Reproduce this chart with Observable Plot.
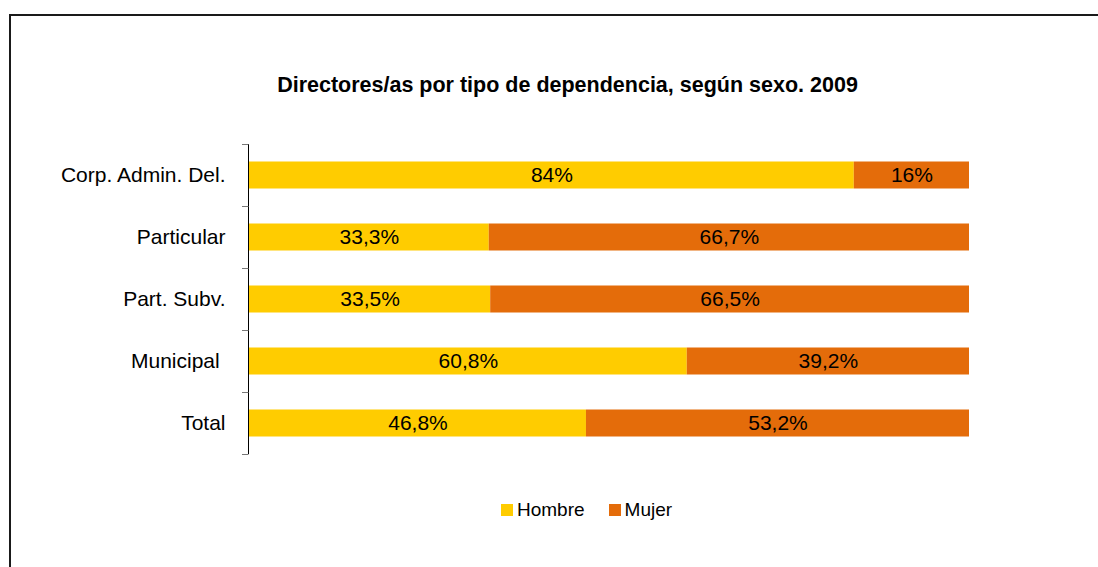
<!DOCTYPE html>
<html>
<head>
<meta charset="utf-8">
<script src="https://cdn.jsdelivr.net/npm/d3@7"></script>
<script src="https://cdn.jsdelivr.net/npm/@observablehq/plot@0.6"></script>
<style>
  html, body { margin: 0; padding: 0; background: #fff; overflow: hidden; }
  #wrap { width: 1098px; height: 567px; position: relative; overflow: hidden; font-family: "Liberation Sans", Arial, sans-serif; }
  #frame { position: absolute; left: 9px; top: 14px; width: 1300px; height: 800px; border-top: 2px solid #1a1a1a; border-left: 2px solid #1a1a1a; box-sizing: border-box; }
  #title { position: absolute; left: 0; width: 1135px; top: 73px; text-align: center; font-size: 21.5px; line-height: 24px; font-weight: bold; color: #000; }
  #chart { position: absolute; left: 0; top: 0; }
  #legend { position: absolute; top: 500px; left: 501px; font-size: 19px; line-height: 20px; color: #000; display: flex; }
  .item { display: flex; align-items: center; margin-right: 24px; }
  .sw { width: 12px; height: 12px; margin-right: 4px; }
</style>
</head>
<body>
<div id="wrap">
<div id="frame"></div>
<div id="title">Directores/as por tipo de dependencia, según sexo. 2009</div>
<div id="chart"></div>
<div id="legend"></div>
</div>
<script>
const categories = ["Corp. Admin. Del.", "Particular", "Part. Subv.", "Municipal\u00a0", "Total"];
const series = ["Hombre", "Mujer"];
const hombre = [84, 33.3, 33.5, 60.8, 46.8];
const mujer = [16, 66.7, 66.5, 39.2, 53.2];
const colors = ["#FFCC00", "#E46C0A"];

const rows = [];
categories.forEach((c, i) => {
  rows.push({cat: c, sexo: series[0], v: hombre[i]});
  rows.push({cat: c, sexo: series[1], v: mujer[i]});
});
const fmt = v => String(v).replace(".", ",") + "%";

// y-axis with ticks at band boundaries (drawn from the band scale)
function bandAxis(index, scales, values, dims) {
  const y = scales.y;
  const step = y.step ? y.step() : y.bandwidth();
  const g = d3.create("svg:g");
  const x0 = dims.marginLeft - 1;
  const starts = y.domain().map(d => y(d));
  const edges = starts.concat([starts[starts.length - 1] + step]);
  g.append("line").attr("x1", x0 + 0.5).attr("x2", x0 + 0.5)
    .attr("y1", edges[0]).attr("y2", edges[edges.length - 1])
    .attr("stroke", "#000");
  edges.forEach(e => {
    g.append("line").attr("x1", x0 - 6).attr("x2", x0 + 0.5)
      .attr("y1", Math.round(e) + 0.5).attr("y2", Math.round(e) + 0.5)
      .attr("stroke", "#777");
  });
  return g.node();
}

const chart = Plot.plot({
  width: 1098,
  height: 567,
  marginLeft: 249,
  marginRight: 129,
  marginTop: 143,
  marginBottom: 113,
  style: {fontFamily: "Liberation Sans, Arial, sans-serif", background: "transparent"},
  x: {domain: [0, 100], axis: null},
  y: {domain: categories, padding: 0, axis: null},
  color: {domain: series, range: colors},
  marks: [
    Plot.barX(rows, Plot.stackX({x: "v", y: "cat", fill: "sexo", insetTop: 17.5, insetBottom: 17.5})),
    Plot.text(rows, Plot.stackX({x: "v", y: "cat", z: "sexo", text: d => fmt(d.v), fontSize: 21, fill: "#000"})),
    Plot.text(categories, {y: d => d, frameAnchor: "left", text: d => d, textAnchor: "end", dx: -24, fontSize: 21, fill: "#000"}),
    bandAxis
  ]
});
document.getElementById("chart").append(chart);

const legend = document.getElementById("legend");
series.forEach((s, i) => {
  const it = document.createElement("div");
  it.className = "item";
  const sw = document.createElement("div");
  sw.className = "sw";
  sw.style.background = colors[i];
  const tx = document.createElement("span");
  tx.textContent = s;
  it.append(sw, tx);
  legend.append(it);
});
</script>
</body>
</html>
